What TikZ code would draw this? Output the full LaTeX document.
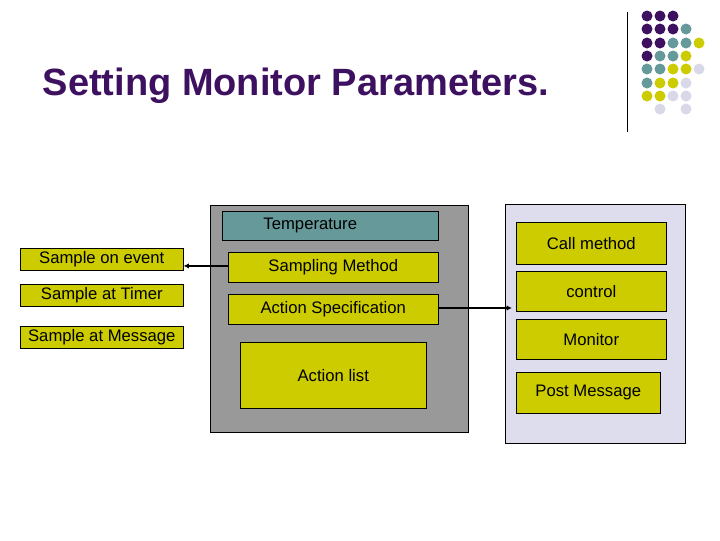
\documentclass[tikz,border=0pt]{standalone}
\usepackage{fontspec}
\setmainfont{Liberation Sans}
\usetikzlibrary{arrows.meta}
\definecolor{TitleClr}{HTML}{3D1060}
\definecolor{TealClr}{HTML}{669999}
\definecolor{YelClr}{HTML}{CCCC00}
\definecolor{LiteClr}{HTML}{D8D8E8}
\definecolor{PanelClr}{HTML}{DDDDEE}

\begin{document}
\begin{tikzpicture}[x=0.75pt,y=-0.75pt,
  box/.style={draw=black,fill=YelClr,inner sep=0pt,anchor=north west,font=\fontsize{12.5}{14}\selectfont},
  conn/.style={line width=1.5pt,-{Latex[length=4pt,width=4pt]}}]
\useasboundingbox (0,0) rectangle (720,540);

% title and ornament
\node[anchor=west,text=TitleClr,font=\fontsize{28.5}{32}\selectfont\bfseries] (title) at (38,86) {Setting Monitor Parameters.};
\draw (627,12) -- (627,132);
\foreach \c/\cl in {0/TitleClr,1/TitleClr,2/TitleClr}{\fill[\cl] (647+13*\c,16) circle (5.5);}
\foreach \c/\cl in {0/TitleClr,1/TitleClr,2/TitleClr,3/TealClr}{\fill[\cl] (647+13*\c,29) circle (5.5);}
\foreach \c/\cl in {0/TitleClr,1/TitleClr,2/TealClr,3/TealClr,4/YelClr}{\fill[\cl] (647+13*\c,43) circle (5.5);}
\foreach \c/\cl in {0/TitleClr,1/TealClr,2/TealClr,3/YelClr}{\fill[\cl] (647+13*\c,56) circle (5.5);}
\foreach \c/\cl in {0/TealClr,1/TealClr,2/YelClr,3/YelClr,4/LiteClr}{\fill[\cl] (647+13*\c,69) circle (5.5);}
\foreach \c/\cl in {0/TealClr,1/YelClr,2/YelClr,3/LiteClr}{\fill[\cl] (647+13*\c,83) circle (5.5);}
\foreach \c/\cl in {0/YelClr,1/YelClr,2/LiteClr,3/LiteClr}{\fill[\cl] (647+13*\c,96) circle (5.5);}
\foreach \c/\cl in {1/LiteClr,3/LiteClr}{\fill[\cl] (647+13*\c,109) circle (5.5);}

% panels
\filldraw[fill=black!40] (210,205) rectangle (468,432);
\filldraw[fill=PanelClr] (505,204) rectangle (685,443);

% middle panel
\node[box,fill=TealClr,minimum width=216*0.75pt,minimum height=29*0.75pt,
  label={[xshift=-15pt,font=\fontsize{12.5}{14}\selectfont]center:Temperature}] (temp) at (222,211) {};
\node[box,minimum width=210*0.75pt,minimum height=30*0.75pt] (samp) at (228,252) {Sampling Method};
\node[box,minimum width=210*0.75pt,minimum height=30*0.75pt] (spec) at (228,294) {Action Specification};
\node[box,minimum width=186*0.75pt,minimum height=66*0.75pt] (alist) at (240,342) {Action list};

% left column
\node[box,minimum width=163*0.75pt,minimum height=22*0.75pt] (event) at (20,248) {Sample on event};
\node[box,minimum width=163*0.75pt,minimum height=22*0.75pt] (timer) at (20,284) {Sample at Timer};
\node[box,minimum width=163*0.75pt,minimum height=22*0.75pt] (msg) at (20,326) {Sample at Message};

% right panel
\node[box,minimum width=150*0.75pt,minimum height=42*0.75pt] (call) at (516,222) {Call method};
\node[box,minimum width=150*0.75pt,minimum height=40*0.75pt] (ctrl) at (516,271) {control};
\node[box,minimum width=150*0.75pt,minimum height=40*0.75pt] (mon) at (516,319) {Monitor};
\node[box,minimum width=144*0.75pt,minimum height=41*0.75pt] (post) at (516,372) {Post Message};

% connectors
\draw[conn] ([yshift=1pt]samp.west) -- ([yshift=1pt]samp.west -| event.east);
\coordinate (ctrlin) at (512,308);
\draw[conn] (spec.east |- ctrlin) -- (ctrlin);
\end{tikzpicture}
\end{document}
